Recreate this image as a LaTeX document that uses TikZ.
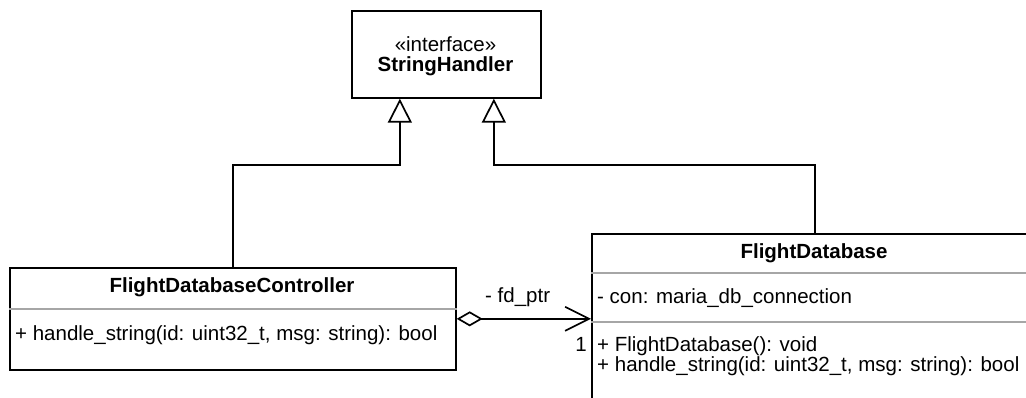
\documentclass[tikz,border=0pt]{standalone}
\usepackage{fontspec}
\setmainfont{Liberation Sans}
\usetikzlibrary{arrows.meta,calc}
\begin{document}
\begin{tikzpicture}[x=1pt,y=-1pt,
  umlbox/.style={draw=black,line width=1.7pt,fill=white,inner sep=0pt,anchor=north west},
  sep/.style={draw=black!35,line width=1.2pt},
  txt/.style={inner sep=0pt,font=\fontsize{20.5}{20.5}\selectfont},
  bold/.style={txt,font=\fontsize{20.5}{20.5}\selectfont\bfseries},
  realize/.style={draw=black,line width=1.7pt,
    -{Triangle[open,length=24pt,width=24pt,fill=white]}},
  aggregate/.style={draw=black,line width=1.7pt,
    {Diamond[open,length=26pt,width=15pt,fill=white]}-{Straight Barb[length=24pt,width=24pt]}}
]
\useasboundingbox (0,0) rectangle (1026,398);
\fill[white] (0,0) rectangle (1026,398);
\clip (0,0) rectangle (1026,398);

% class boxes
\node[umlbox,minimum width=189pt,minimum height=87pt] (iface) at (351,10) {};
\node[umlbox,minimum width=446pt,minimum height=102pt] (ctrl) at (9,267) {};
\node[umlbox,minimum width=446pt,minimum height=200pt] (fdb) at (591,233) {};

% compartment separators
\draw[sep] (ctrl.west |- 0,309) -- (ctrl.east |- 0,309);
\draw[sep] (fdb.west |- 0,273) -- (fdb.east |- 0,273);
\draw[sep] (fdb.west |- 0,322) -- (fdb.east |- 0,322);

% interface
\node[txt,anchor=base] (stereo) at (445.5,52) {«interface»};
\node[bold,anchor=base] (ifname) at (445.5,72) {StringHandler};

% controller
\node[bold,anchor=base] (ctrlname) at (232,292) {FlightDatabaseController};
\node[txt,anchor=base west] (ctrlop) at (15,341) {+ handle\_string(id: uint32\_t, msg: string): bool};

% database
\node[bold,anchor=base] (fdbname) at (814,259) {FlightDatabase};
\node[txt,anchor=base west] (fdbattr) at (597,304) {- con: maria\_db\_connection};
\node[txt,anchor=base west] (fdbop1) at (597,351) {+ FlightDatabase(): void};
\node[txt,anchor=base west] (fdbop2) at (597,371) {+ handle\_string(id: uint32\_t, msg: string): bool};

% realization connectors
\coordinate (ifL) at ($(iface.south)+(-46.5,0)$);
\coordinate (ifR) at ($(iface.south)+(47.5,0)$);
\draw[realize] (ctrl.north) -- ++(0,-102) -| (ifL);
\draw[realize] (fdb.north) -- ++(0,-68) -| (ifR);

% aggregation
\draw[aggregate] (ctrl.east) -- (ctrl.east -| fdb.west);
\node[txt,anchor=base west] (role) at (485,302) {- fd\_ptr};
\node[txt,anchor=base east] (mult) at (587,352) {1};
\end{tikzpicture}
\end{document}
